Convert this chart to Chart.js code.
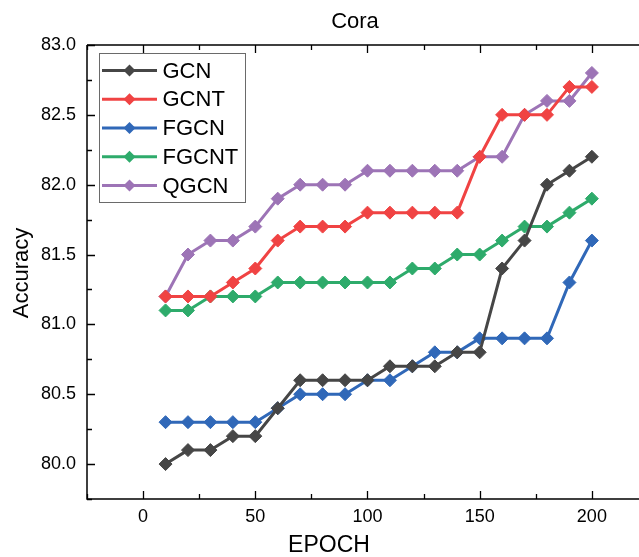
<!DOCTYPE html>
<html>
<head>
<meta charset="utf-8">
<script src="https://cdn.jsdelivr.net/npm/chart.js@4/dist/chart.umd.min.js"></script>
<style>
  html, body { margin: 0; padding: 0; background: #fff; overflow: hidden; }
  #wrap { width: 639px; height: 557px; position: relative; }
</style>
</head>
<body>
<div id="wrap"><canvas id="c" width="639" height="557"></canvas></div>
<script>
const epochs = [10, 20, 30, 40, 50, 60, 70, 80, 90, 100, 110, 120, 130, 140, 150, 160, 170, 180, 190, 200];
const gcn   = [80.0, 80.1, 80.1, 80.2, 80.2, 80.4, 80.6, 80.6, 80.6, 80.6, 80.7, 80.7, 80.7, 80.8, 80.8, 81.4, 81.6, 82.0, 82.1, 82.2];
const gcnt  = [81.2, 81.2, 81.2, 81.3, 81.4, 81.6, 81.7, 81.7, 81.7, 81.8, 81.8, 81.8, 81.8, 81.8, 82.2, 82.5, 82.5, 82.5, 82.7, 82.7];
const fgcn  = [80.3, 80.3, 80.3, 80.3, 80.3, 80.4, 80.5, 80.5, 80.5, 80.6, 80.6, 80.7, 80.8, 80.8, 80.9, 80.9, 80.9, 80.9, 81.3, 81.6];
const fgcnt = [81.1, 81.1, 81.2, 81.2, 81.2, 81.3, 81.3, 81.3, 81.3, 81.3, 81.3, 81.4, 81.4, 81.5, 81.5, 81.6, 81.7, 81.7, 81.8, 81.9];
const qgcn  = [81.2, 81.5, 81.6, 81.6, 81.7, 81.9, 82.0, 82.0, 82.0, 82.1, 82.1, 82.1, 82.1, 82.1, 82.2, 82.2, 82.5, 82.6, 82.6, 82.8];
const seriesNames = ['GCN', 'GCNT', 'FGCN', 'FGCNT', 'QGCN'];
const xTickValues = [0, 50, 100, 150, 200];
const yTickValues = [80.0, 80.5, 81.0, 81.5, 82.0, 82.5, 83.0];
const titleText = 'Cora';
const xTitle = 'EPOCH';
const yTitle = 'Accuracy';

const FONT = '"Liberation Sans", Arial, Helvetica, sans-serif';
const colors = ['#464646', '#f04343', '#3068b8', '#2eab6b', '#9d74b6'];
const allSeries = [gcn, gcnt, fgcn, fgcnt, qgcn];

const datasets = allSeries.map((vals, i) => ({
  label: seriesNames[i],
  data: epochs.map((e, j) => ({ x: e, y: vals[j] })),
  borderColor: colors[i],
  backgroundColor: colors[i],
  pointBackgroundColor: colors[i],
  pointBorderColor: colors[i],
  pointStyle: 'rectRot',
  pointRadius: 6.5,
  pointBorderWidth: 1,
  borderWidth: 3,
  tension: 0,
  fill: false
}));

function midpoints(arr) {
  const out = [];
  for (let i = 0; i < arr.length - 1; i++) out.push((arr[i] + arr[i + 1]) / 2);
  out.push(arr[0] - (arr[1] - arr[0]) / 2);
  out.push(arr[arr.length - 1] + (arr[1] - arr[0]) / 2);
  return out;
}

const originPlugin = {
  id: 'originStyle',
  afterDatasetsDraw(chart) {
    const ctx = chart.ctx;
    const ca = chart.chartArea;
    const xs = chart.scales.x, ys = chart.scales.y;
    ctx.save();
    ctx.strokeStyle = '#000';
    ctx.lineWidth = 1.5;
    ctx.beginPath();
    ctx.moveTo(ca.left, ca.top); ctx.lineTo(ca.left, ca.bottom); ctx.lineTo(ca.right + 1, ca.bottom);
    ctx.moveTo(ca.left, ca.top); ctx.lineTo(ca.right + 1, ca.top);
    ctx.stroke();
    const major = 8, minor = 5;
    ctx.lineWidth = 1.3;
    ctx.beginPath();
    const xMin = midpoints(xTickValues);
    xTickValues.forEach(v => {
      const p = Math.round(xs.getPixelForValue(v)) + 0.5;
      ctx.moveTo(p, ca.bottom); ctx.lineTo(p, ca.bottom - major);
      ctx.moveTo(p, ca.top); ctx.lineTo(p, ca.top + major);
    });
    xMin.forEach(v => {
      if (v < xs.min || v > xs.max) return;
      const p = Math.round(xs.getPixelForValue(v)) + 0.5;
      ctx.moveTo(p, ca.bottom); ctx.lineTo(p, ca.bottom - minor);
      ctx.moveTo(p, ca.top); ctx.lineTo(p, ca.top + minor);
    });
    const yMin = midpoints(yTickValues);
    yTickValues.forEach(v => {
      const p = Math.round(ys.getPixelForValue(v)) + 0.5;
      ctx.moveTo(ca.left, p); ctx.lineTo(ca.left + major, p);
    });
    yMin.forEach(v => {
      if (v < ys.min || v > ys.max) return;
      const p = Math.round(ys.getPixelForValue(v)) + 0.5;
      ctx.moveTo(ca.left, p); ctx.lineTo(ca.left + minor, p);
    });
    ctx.stroke();
    ctx.restore();
  },
  afterDraw(chart) {
    const ctx = chart.ctx;
    ctx.save();
    ctx.fillStyle = '#000';
    ctx.font = '22px ' + FONT;
    ctx.textAlign = 'center';
    ctx.textBaseline = 'alphabetic';
    ctx.fillText(titleText, 355, 28);
    ctx.font = '23px ' + FONT;
    ctx.fillText(xTitle, 329, 552);
    ctx.save();
    ctx.translate(22, 273);
    ctx.rotate(-Math.PI / 2);
    ctx.font = '22px ' + FONT;
    ctx.textBaseline = 'middle';
    ctx.fillText(yTitle, 0, 0);
    ctx.restore();
    const bx = 99.5, by = 53.5, bw = 146, bh = 149;
    ctx.fillStyle = '#fff';
    ctx.fillRect(bx, by, bw, bh);
    ctx.strokeStyle = '#6a6a6a';
    ctx.lineWidth = 1;
    ctx.strokeRect(bx, by, bw, bh);
    chart.data.datasets.forEach((ds, i) => {
      const y = 70.5 + i * 28.75;
      ctx.strokeStyle = ds.borderColor;
      ctx.lineWidth = 3;
      ctx.beginPath();
      ctx.moveTo(102, y); ctx.lineTo(157, y);
      ctx.stroke();
      ctx.fillStyle = ds.borderColor;
      ctx.beginPath();
      const r = 6;
      ctx.moveTo(129.5 - r, y); ctx.lineTo(129.5, y - r); ctx.lineTo(129.5 + r, y); ctx.lineTo(129.5, y + r);
      ctx.closePath();
      ctx.fill();
      ctx.fillStyle = '#000';
      ctx.font = '22px ' + FONT;
      ctx.textAlign = 'left';
      ctx.textBaseline = 'middle';
      ctx.fillText(ds.label, 162.5, y + 1);
    });
    ctx.restore();
  }
};

new Chart(document.getElementById('c'), {
  type: 'line',
  data: { datasets },
  options: {
    responsive: false,
    animation: false,
    devicePixelRatio: 1,
    layout: { autoPadding: false, padding: { top: 45, right: 0, left: 0, bottom: 0 } },
    plugins: { legend: { display: false }, title: { display: false }, tooltip: { enabled: false } },
    scales: {
      x: {
        type: 'linear',
        min: -25,
        max: 221,
        grid: { display: false, drawTicks: false },
        border: { display: false },
        afterBuildTicks: s => { s.ticks = xTickValues.map(v => ({ value: v })); },
        afterFit: s => { s.height = 58; s.paddingLeft = 0; s.paddingRight = 0; },
        ticks: { color: '#000', font: { family: FONT, size: 18 }, padding: 7, maxRotation: 0, autoSkip: false }
      },
      y: {
        type: 'linear',
        min: 79.75,
        max: 83.0,
        grid: { display: false, drawTicks: false },
        border: { display: false },
        afterBuildTicks: s => { s.ticks = yTickValues.map(v => ({ value: v })); },
        afterFit: s => { s.width = 87; s.paddingTop = 0; s.paddingBottom = 0; },
        ticks: { color: '#000', font: { family: FONT, size: 18 }, padding: 11, callback: v => Number(v).toFixed(1) }
      }
    }
  },
  plugins: [originPlugin]
});
</script>
</body>
</html>
